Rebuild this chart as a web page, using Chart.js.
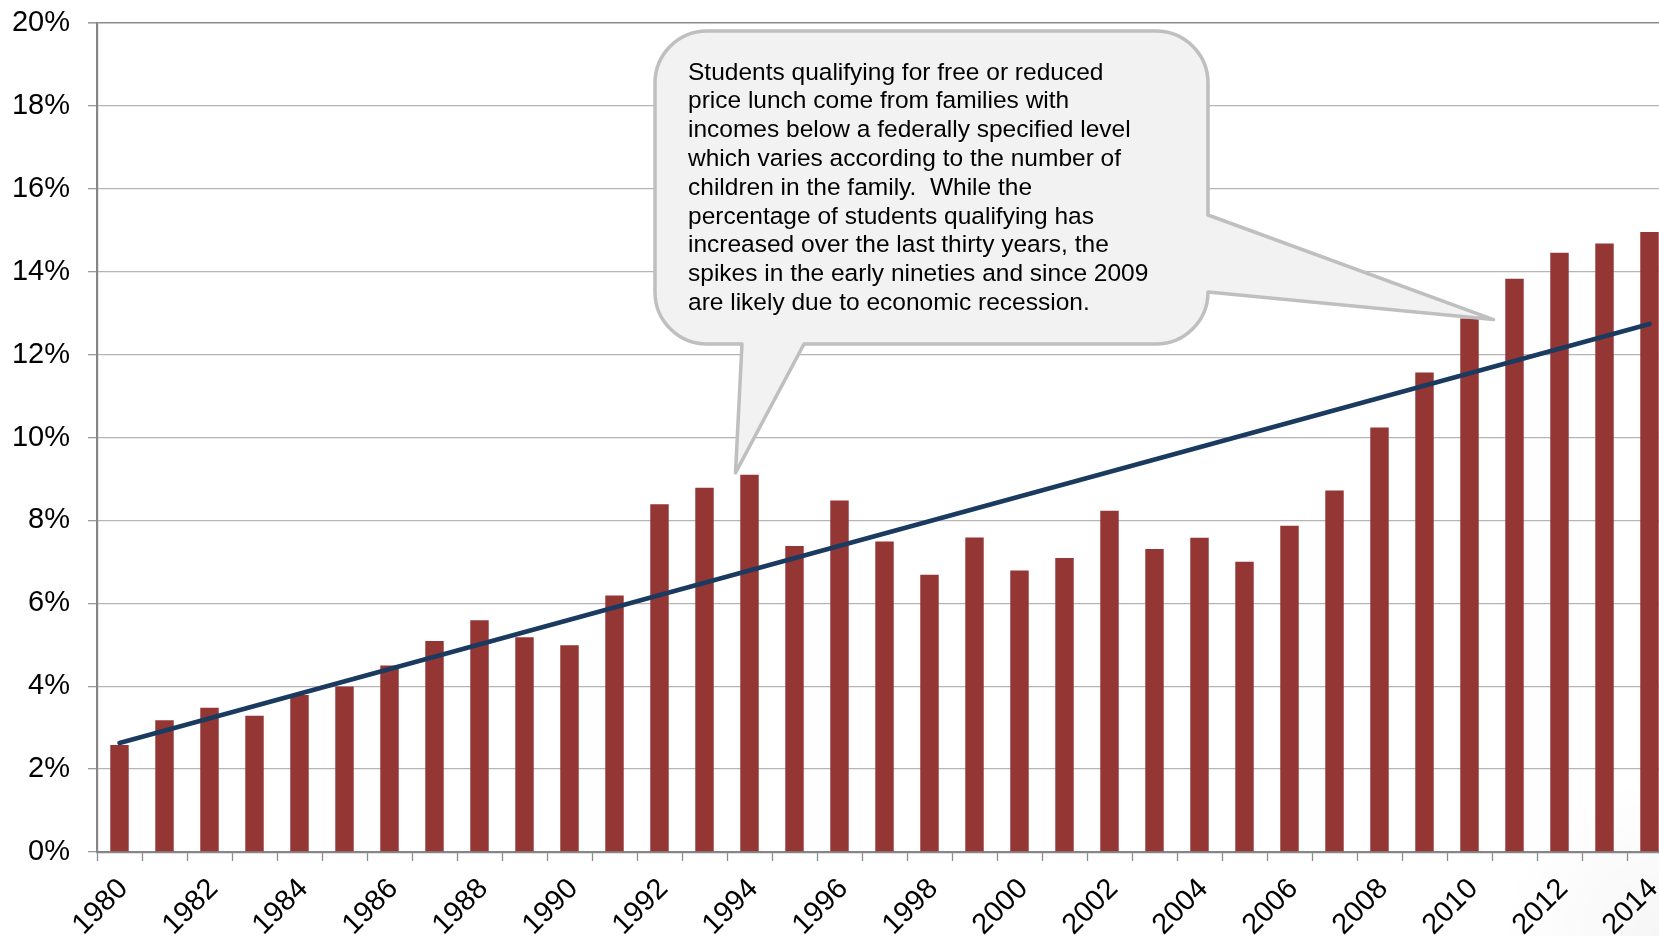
<!DOCTYPE html>
<html>
<head>
<meta charset="utf-8">
<title>Free or reduced price lunch</title>
<script src="https://cdn.jsdelivr.net/npm/chart.js@4.4.1/dist/chart.umd.min.js"></script>
<style>
  html, body { margin: 0; padding: 0; overflow: hidden; }
  body {
    width: 1659px; height: 936px; position: relative;
    background:
      radial-gradient(circle at 100% 100%, rgba(0,0,0,0.035) 0px, rgba(0,0,0,0) 160px),
      #ffffff;
  }
  #wrap { position: absolute; left: 0; top: 0; width: 1676px; height: 936px; }
</style>
</head>
<body>
<div id="wrap"><canvas id="chart"></canvas></div>
<script>
// School years on the category axis
const years = [
  '1980','1981','1982','1983','1984','1985','1986','1987','1988','1989',
  '1990','1991','1992','1993','1994','1995','1996','1997','1998','1999',
  '2000','2001','2002','2003','2004','2005','2006','2007','2008','2009',
  '2010','2011','2012','2013','2014'
];

// Share of students qualifying for free or reduced price lunch (%)
const pctQualifying = [
  2.58, 3.18, 3.48, 3.29, 3.79, 3.99, 4.50, 5.09, 5.59, 5.18,
  4.99, 6.19, 8.39, 8.79, 9.10, 7.38, 8.48, 7.49, 6.69, 7.59,
  6.79, 7.09, 8.23, 7.31, 7.58, 7.00, 7.87, 8.72, 10.24, 11.57,
  12.87, 13.83, 14.46, 14.68, 14.96
];

// Linear trend: value at the first and at the last year
const trendStart = 2.63;
const trendEnd = 12.74;

// Years that carry a label on the horizontal axis
const labeledYears = [
  '1980','1982','1984','1986','1988','1990','1992','1994','1996',
  '1998','2000','2002','2004','2006','2008','2010','2012','2014'
];

// Vertical axis range and step (%)
const yMin = 0, yMax = 20, yStep = 2;

// Callout text and the years its two pointers refer to
const calloutLines = [
  'Students qualifying for free or reduced',
  'price lunch come from families with',
  'incomes below a federally specified level',
  'which varies according to the number of',
  'children in the family.  While the',
  'percentage of students qualifying has',
  'increased over the last thirty years, the',
  'spikes in the early nineties and since 2009',
  'are likely due to economic recession.'
];
const calloutYears = ['1994', '2010'];

const trendData = years.map((_, i) =>
  i === 0 ? trendStart : (i === years.length - 1 ? trendEnd : null));

const FONT = "'Liberation Sans', Arial, Helvetica, sans-serif";

// Speech-bubble note with two pointers, drawn over the plot
const calloutPlugin = {
  id: 'callout',
  afterDraw(chart) {
    const ctx = chart.ctx;
    const xs = chart.scales.x, ys = chart.scales.y;
    const i1 = years.indexOf(calloutYears[0]);
    const i2 = years.indexOf(calloutYears[1]);
    const tip1 = { x: xs.getPixelForValue(i1) - 14, y: ys.getPixelForValue(pctQualifying[i1]) - 2 };
    const tip2 = { x: xs.getPixelForValue(i2) + 24, y: ys.getPixelForValue(pctQualifying[i2]) + 1 };

    const L = 655, T = 31, R = 1208, B = 344, r = 52;
    ctx.save();
    ctx.beginPath();
    ctx.moveTo(L + r, T);
    ctx.lineTo(R - r, T);
    ctx.arcTo(R, T, R, T + r, r);
    ctx.lineTo(R, 215);
    ctx.lineTo(tip2.x, tip2.y);
    ctx.lineTo(R, 292);
    ctx.lineTo(R, B - r);
    ctx.arcTo(R, B, R - r, B, r);
    ctx.lineTo(804, B);
    ctx.lineTo(tip1.x, tip1.y);
    ctx.lineTo(742, B);
    ctx.lineTo(L + r, B);
    ctx.arcTo(L, B, L, B - r, r);
    ctx.lineTo(L, T + r);
    ctx.arcTo(L, T, L + r, T, r);
    ctx.closePath();
    ctx.fillStyle = '#f2f2f2';
    ctx.fill();
    ctx.lineWidth = 3.5;
    ctx.lineJoin = 'round';
    ctx.strokeStyle = '#bfbfbf';
    ctx.stroke();

    ctx.fillStyle = '#000000';
    ctx.font = '24.5px ' + FONT;
    ctx.textAlign = 'left';
    ctx.textBaseline = 'alphabetic';
    calloutLines.forEach((line, k) => {
      ctx.fillText(line, 688, 79.5 + k * 28.8);
    });
    ctx.restore();
  }
};

new Chart(document.getElementById('chart'), {
  data: {
    labels: years,
    datasets: [
      {
        type: 'line',
        label: 'Trend',
        data: trendData,
        spanGaps: true,
        borderColor: '#1b3a60',
        borderWidth: 4.6,
        borderCapStyle: 'round',
        pointRadius: 0,
        tension: 0,
        order: 0
      },
      {
        type: 'bar',
        label: 'Free or reduced price lunch',
        data: pctQualifying,
        backgroundColor: '#943634',
        borderWidth: 0,
        categoryPercentage: 1.0,
        barPercentage: 0.41,
        order: 1
      }
    ]
  },
  options: {
    responsive: true,
    maintainAspectRatio: false,
    animation: false,
    events: [],
    layout: { padding: { top: 23, right: 4, bottom: 0, left: 0 } },
    plugins: {
      legend: { display: false },
      tooltip: { enabled: false },
      title: { display: false }
    },
    scales: {
      x: {
        type: 'category',
        offset: true,
        grid: {
          offset: true,
          drawOnChartArea: false,
          drawTicks: true,
          tickLength: 9,
          tickColor: '#8c8c8c',
          tickWidth: 1.3
        },
        border: { display: true, color: '#868686', width: 2.2 },
        ticks: {
          autoSkip: false,
          maxRotation: 45,
          minRotation: 45,
          padding: 11,
          labelOffset: 4,
          color: '#000000',
          font: { family: FONT, size: 29 },
          callback(value) {
            const lab = this.getLabelForValue(value);
            return labeledYears.includes(lab) ? lab : '';
          }
        },
        afterFit(scale) {
          scale.height = 84;
          scale.paddingLeft = 0;
          scale.paddingRight = 0;
        }
      },
      y: {
        type: 'linear',
        min: yMin,
        max: yMax,
        grid: {
          color: (c) => (c.tick && c.tick.value === yMax) ? '#8c8c8c' : '#b5b5b5',
          lineWidth: (c) => (c.tick && c.tick.value === yMax) ? 1.6 : 1.3,
          tickLength: 9,
          tickColor: '#9a9a9a',
          drawTicks: true
        },
        border: { display: true, color: '#868686', width: 2.2 },
        ticks: {
          stepSize: yStep,
          padding: 18,
          color: '#000000',
          font: { family: FONT, size: 29 },
          callback: (v) => v + '%'
        },
        afterFit(scale) {
          scale.width = 97;
          scale.paddingTop = 0;
          scale.paddingBottom = 0;
        }
      }
    }
  },
  plugins: [calloutPlugin]
});
</script>
</body>
</html>
